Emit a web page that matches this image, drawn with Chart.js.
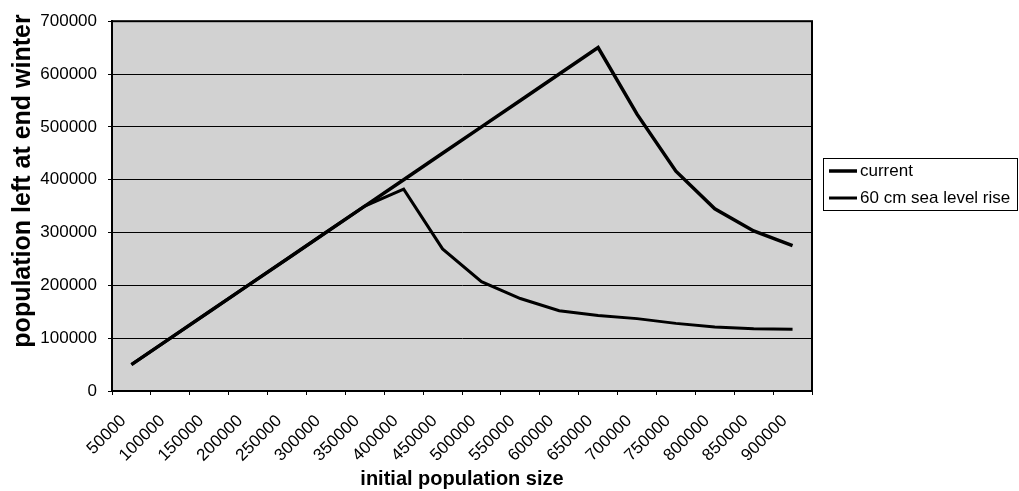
<!DOCTYPE html>
<html>
<head>
<meta charset="utf-8">
<script src="https://cdn.jsdelivr.net/npm/chart.js@4"></script>
<style>
  html, body { margin: 0; padding: 0; background: #fff; }
  #wrap { width: 1019px; height: 491px; }
</style>
</head>
<body>
<div id="wrap"><canvas id="chart" width="1019" height="491"></canvas></div>
<script>
// initial population sizes (categories)
const sizes = [50000, 100000, 150000, 200000, 250000, 300000, 350000, 400000, 450000,
  500000, 550000, 600000, 650000, 700000, 750000, 800000, 850000, 900000];

// population left at end of winter
const current = [50000, 100000, 150000, 200000, 250000, 300000, 350000, 400000, 450000,
  500000, 550000, 600000, 650000, 524000, 416000, 345000, 303000, 275000];
const seaRise = [50000, 100000, 150000, 200000, 250000, 300000, 350000, 382000, 269000,
  207000, 175000, 152000, 143000, 137000, 128000, 121000, 118000, 117000];

const seriesNames = ["current", "60 cm sea level rise"];
const xTitle = "initial population size";
const yTitle = "population left at end winter";

const FONT = "Arial, 'Liberation Sans', sans-serif";

// plot area background + frame
const plotFrame = {
  id: "plotFrame",
  beforeDraw(chart) {
    const { ctx, chartArea: a } = chart;
    ctx.save();
    ctx.fillStyle = "#d2d2d2";
    ctx.fillRect(a.left, a.top, a.right - a.left, a.bottom - a.top);
    ctx.restore();
  },
  afterDraw(chart) {
    const { ctx, chartArea: a } = chart;
    ctx.save();
    ctx.strokeStyle = "#000";
    ctx.lineWidth = 2;
    ctx.strokeRect(a.left, a.top, a.right - a.left, a.bottom - a.top);
    ctx.restore();
  }
};

// y axis title, Excel puts it a bit above the middle
const yTitlePlugin = {
  id: "yTitlePlugin",
  afterDraw(chart) {
    const ctx = chart.ctx;
    ctx.save();
    ctx.translate(23, 181);
    ctx.rotate(-Math.PI / 2);
    ctx.font = "bold 25px " + FONT;
    ctx.fillStyle = "#000";
    ctx.textAlign = "center";
    ctx.textBaseline = "middle";
    ctx.fillText(yTitle, 0, 0);
    ctx.restore();
  }
};

// legend box at the right, like the Excel one
const boxLegend = {
  id: "boxLegend",
  afterDraw(chart) {
    const ctx = chart.ctx;
    const x = 823, y = 158, w = 195, h = 53;
    ctx.save();
    ctx.fillStyle = "#fff";
    ctx.fillRect(x, y, w, h);
    ctx.strokeStyle = "#000";
    ctx.lineWidth = 1;
    ctx.strokeRect(x + 0.5, y + 0.5, w - 1, h - 1);
    ctx.font = "17px " + FONT;
    ctx.textBaseline = "middle";
    ctx.fillStyle = "#000";
    chart.data.datasets.forEach((ds, i) => {
      const ly = y + 13 + i * 27;
      ctx.strokeStyle = ds.borderColor;
      ctx.lineWidth = ds.borderWidth;
      ctx.beginPath();
      ctx.moveTo(x + 6, ly);
      ctx.lineTo(x + 34, ly);
      ctx.stroke();
      ctx.fillText(ds.label, x + 37, ly);
    });
    ctx.restore();
  }
};

const ctx = document.getElementById("chart").getContext("2d");
new Chart(ctx, {
  type: "line",
  data: {
    labels: sizes.map(String),
    datasets: [
      {
        label: seriesNames[0],
        data: current,
        borderColor: "#000",
        borderWidth: 3.5,
        pointRadius: 0,
        tension: 0,
        fill: false
      },
      {
        label: seriesNames[1],
        data: seaRise,
        borderColor: "#000",
        borderWidth: 3,
        pointRadius: 0,
        tension: 0,
        fill: false
      }
    ]
  },
  options: {
    responsive: false,
    animation: false,
    layout: { padding: { top: 19, right: 207, left: 0, bottom: 0 } },
    plugins: {
      legend: { display: false },
      tooltip: { enabled: false }
    },
    scales: {
      x: {
        offset: true,
        grid: {
          offset: true,
          drawOnChartArea: false,
          drawTicks: true,
          tickLength: 4,
          color: "#000"
        },
        border: { color: "#000", width: 2 },
        ticks: {
          color: "#000",
          font: { family: FONT, size: 17 },
          minRotation: 45,
          maxRotation: 45,
          autoSkip: false,
          padding: 16,
          labelOffset: -8
        },
        title: {
          display: true,
          text: xTitle,
          color: "#000",
          font: { family: FONT, size: 20, weight: "bold" },
          padding: { top: 0, bottom: 0 }
        },
        afterFit(scale) { scale.height = 100; }
      },
      y: {
        min: 0,
        max: 700000,
        grid: {
          color: "#000",
          lineWidth: 1,
          tickLength: 4
        },
        border: { color: "#000", width: 2 },
        ticks: {
          stepSize: 100000,
          color: "#000",
          font: { family: FONT, size: 17 },
          padding: 11,
          callback: (v) => String(v)
        },
        afterFit(scale) { scale.width = 112; }
      }
    }
  },
  plugins: [plotFrame, yTitlePlugin, boxLegend]
});
</script>
</body>
</html>
